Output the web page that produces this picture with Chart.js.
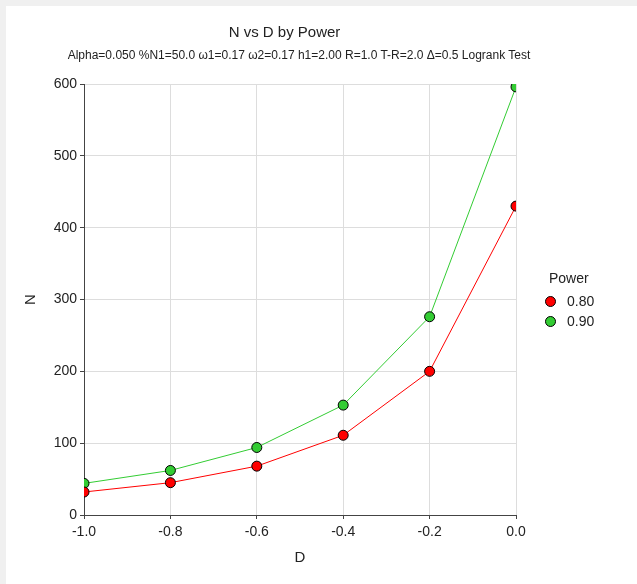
<!DOCTYPE html>
<html lang="en">
<head>
    <meta charset="UTF-8">
    <title>N vs D by Power</title>
    <script src="https://cdn.jsdelivr.net/npm/chart.js"></script>
    <style>
        body { margin: 0; background: #f0f0f0; font-family: 'Liberation Sans', Arial, sans-serif; }
        #frame { position: absolute; left: 6px; top: 6px; width: 631px; height: 578px; background: #fff; }
        #title { position: absolute; left: 78.5px; width: 400px; top: 16.5px; line-height: 18px; font-size: 15px; text-align: center; color: #222; }
        #subtitle { position: absolute; left: 43px; width: 500px; top: 41.5px; line-height: 15px; font-size: 12px; text-align: center; color: #222; white-space: nowrap; }
        #legend { position: absolute; left: 539px; top: 263px; color: #222; font-size: 14px; }
        #legend .ttl { margin-left: 4px; height: 18px; line-height: 18px; margin-bottom: 4px; }
        #legend .item { height: 20px; line-height: 20px; display: flex; align-items: center; }
        #legend .dot { width: 9px; height: 9px; border-radius: 50%; border: 1px solid #000; margin-right: 11px; }
    </style>
</head>
<body>
    <div id="frame">
        <canvas id="chart" width="631" height="578"></canvas>
        <div id="title">N vs D by Power</div>
        <div id="subtitle">Alpha=0.050 %N1=50.0 &omega;1=0.17 &omega;2=0.17 h1=2.00 R=1.0 T-R=2.0 &Delta;=0.5 Logrank Test</div>
        <div id="legend"></div>
    </div>

    <script>
        // values
        const dValues = [-1.0, -0.8, -0.6, -0.4, -0.2, 0.0];
        const power080 = [32, 45, 68, 111, 200, 430];
        const power090 = [44, 62, 94, 153, 276, 596];
        const powerLabels = ['0.80', '0.90'];
        const powerColors = ['#ff0000', '#33cc33'];

        const font = "'Liberation Sans', Arial, sans-serif";

        function toPoints(ys) {
            return dValues.map((d, i) => ({ x: d, y: ys[i] }));
        }

        const datasets = [power080, power090].map((ys, i) => ({
            label: powerLabels[i],
            data: toPoints(ys),
            borderColor: powerColors[i],
            backgroundColor: powerColors[i],
            borderWidth: 1,
            pointRadius: 5,
            pointHoverRadius: 5,
            pointBorderColor: '#000',
            pointBorderWidth: 1,
            tension: 0,
        }));

        // html legend, built from the series
        const legend = document.getElementById('legend');
        legend.innerHTML = '<div class="ttl">Power</div>' + powerLabels.map((l, i) =>
            `<div class="item"><span class="dot" style="background:${powerColors[i]}"></span>${l}</div>`).join('');

        const ctx = document.getElementById('chart').getContext('2d');
        new Chart(ctx, {
            type: 'line',
            data: { datasets },
            options: {
                responsive: false,
                animation: false,
                layout: { padding: { left: 0, right: 121, top: 78, bottom: 0 } },
                plugins: {
                    legend: { display: false },
                    tooltip: { enabled: false },
                },
                scales: {
                    x: {
                        type: 'linear',
                        min: -1,
                        max: 0,
                        afterFit: s => { s.height = 69; },
                        ticks: {
                            stepSize: 0.2,
                            color: '#222',
                            font: { family: font, size: 14 },
                            padding: 5,
                            callback: v => v.toFixed(1),
                        },
                        grid: { color: '#dddddd', tickColor: '#444', tickLength: 4 },
                        border: { color: '#444', width: 1 },
                        title: {
                            display: true,
                            text: 'D',
                            color: '#222',
                            font: { family: font, size: 15 },
                            padding: { top: 0, bottom: 17 },
                        },
                    },
                    y: {
                        min: 0,
                        max: 600,
                        afterFit: s => { s.width = 78; },
                        ticks: {
                            stepSize: 100,
                            color: '#222',
                            font: { family: font, size: 14 },
                            padding: 3,
                        },
                        grid: { color: '#dddddd', tickColor: '#444', tickLength: 4 },
                        border: { color: '#444', width: 1 },
                        title: {
                            display: true,
                            text: 'N',
                            color: '#222',
                            font: { family: font, size: 15 },
                            padding: { top: 16, bottom: 0 },
                        },
                    },
                },
            },
        });
    </script>
</body>
</html>
